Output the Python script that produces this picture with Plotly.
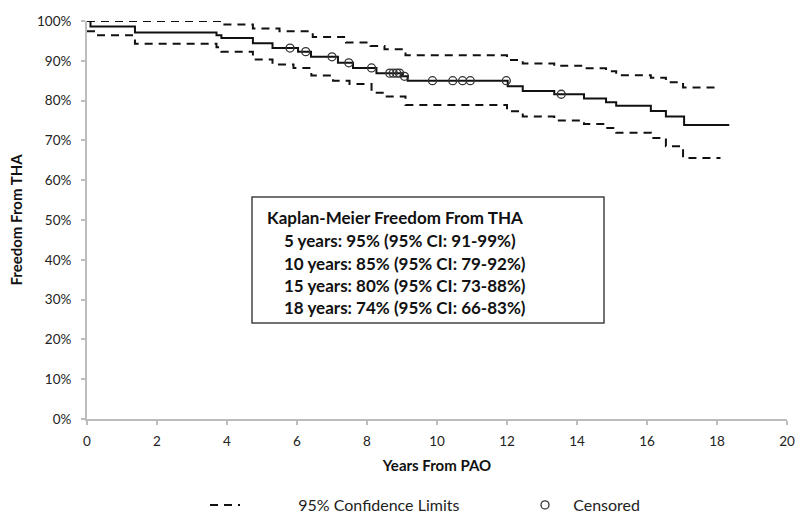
import plotly.graph_objects as go

# ---- data (years, survival %) ----
km_t = [0, 0.1, 1.37, 3.7, 3.84, 4.74, 5.3, 6.03, 6.4, 7.17, 7.6, 8.27, 9.0, 9.16, 12.02, 12.45, 13.35, 14.2, 14.83, 15.12, 16.11, 16.54, 17.06, 18.35]
km_s = [100, 98.6, 97.1, 96.4, 95.7, 94.4, 93.2, 92.3, 91.0, 89.5, 88.2, 86.9, 86.1, 85.0, 83.6, 82.4, 81.6, 80.5, 79.6, 78.7, 77.4, 76.0, 73.9, 73.9]

up_t = [0, 3.88, 4.74, 5.5, 6.45, 7.4, 8.1, 8.5, 9.1, 12.0, 12.45, 13.35, 14.2, 14.83, 15.12, 16.11, 16.54, 17.03, 18.1]
up_s = [100, 99.1, 98.1, 97.4, 96.0, 94.6, 93.75, 92.9, 91.4, 90.2, 89.3, 88.75, 88.1, 87.4, 86.4, 85.75, 84.6, 83.3, 83.3]

lo_t = [0, 0.27, 1.37, 3.7, 3.84, 4.74, 5.3, 5.9, 6.41, 7.03, 7.5, 8.13, 8.5, 9.1, 12.0, 12.45, 13.35, 14.2, 14.83, 15.12, 16.11, 16.54, 17.03, 18.1]
lo_s = [97.4, 96.4, 94.3, 93.4, 92.3, 90.3, 89.1, 88.2, 86.3, 85.0, 84.2, 82.0, 81.0, 78.9, 77.3, 76.0, 75.0, 74.1, 73.1, 71.9, 70.6, 68.5, 65.6, 65.6]

cens_t = [5.8, 6.25, 7.0, 7.48, 8.13, 8.65, 8.75, 8.85, 8.93, 9.07, 9.87, 10.45, 10.73, 10.95, 11.98, 13.55]
cens_s = [93.2, 92.3, 91.0, 89.5, 88.2, 86.9, 86.9, 86.9, 86.9, 86.1, 85.0, 85.0, 85.0, 85.0, 85.0, 81.6]

box_lines = [
    "Kaplan-Meier Freedom From THA",
    "5 years: 95% (95% CI: 91-99%)",
    "10 years: 85% (95% CI: 79-92%)",
    "15 years: 80% (95% CI: 73-88%)",
    "18 years: 74% (95% CI: 66-83%)",
]

FONT = "Lato"
L, R, T, B = 87, 787, 21, 419
W, H = 800, 521

def xp(px):
    return (px - L) / (R - L)

def yp(py):
    return (B - py) / (B - T)

NB = "\u00a0"
fig = go.Figure()
ci_dash = "8px,6px"
fig.add_trace(go.Scatter(x=up_t, y=up_s, mode="lines", line=dict(color="#111", width=2, dash=ci_dash, shape="hv"),
                         name=NB * 13 + "95% Confidence Limits", legendgroup="ci", showlegend=True,
                         legend="legend", hoverinfo="skip"))
fig.add_trace(go.Scatter(x=lo_t, y=lo_s, mode="lines", line=dict(color="#111", width=2, dash=ci_dash, shape="hv"),
                         name="95% Confidence Limits", legendgroup="ci", showlegend=False, hoverinfo="skip"))
fig.add_trace(go.Scatter(x=km_t, y=km_s, mode="lines", line=dict(color="#111", width=2, shape="hv"),
                         name="KM", showlegend=False))
fig.add_trace(go.Scatter(x=cens_t, y=cens_s, mode="markers",
                         marker=dict(symbol="circle-open", size=8, color="#333", line=dict(width=1.3, color="#333")),
                         name=NB * 2 + "Censored", showlegend=True, legend="legend2"))

# text box
fig.add_shape(type="rect", xref="paper", yref="paper", x0=xp(252), x1=xp(604), y0=yp(323), y1=yp(197),
              line=dict(color="#444", width=1.5), fillcolor="white", layer="above")
line_y = [217, 241, 263, 285, 307]
line_x = [265, 282, 282, 282, 282]
for txt, yy, xx in zip(box_lines, line_y, line_x):
    fig.add_annotation(text=txt, xref="paper", yref="paper", x=xp(xx), y=yp(yy), xanchor="left", yanchor="middle",
                       showarrow=False, font=dict(family=FONT, size=17, color="#111", weight="bold"))

axis_common = dict(showline=True, linecolor="#bdbdbd", linewidth=2, ticks="outside", tickcolor="#bdbdbd",
                   ticklen=4, tickwidth=1.5, showgrid=False, zeroline=False, automargin=False,
                   tickfont=dict(family=FONT, size=13.5, color="#222"))
fig.update_xaxes(range=[0, 20], dtick=2, tick0=0, ticklabelstandoff=5,
                 title=dict(text="Years From PAO", font=dict(family=FONT, size=15, color="#111", weight="bold"), standoff=12),
                 **axis_common)
fig.update_yaxes(range=[0, 100], dtick=10, ticksuffix="%", ticklabelstandoff=7,
                 title=dict(text="Freedom From THA", font=dict(family=FONT, size=15, color="#111", weight="bold"), standoff=11),
                 **axis_common)

leg_common = dict(orientation="h", yanchor="middle", xanchor="left", yref="container", y=(H - 505) / H,
                  font=dict(family=FONT, size=16, color="#222"), bgcolor="rgba(0,0,0,0)")
fig.update_layout(
    width=W, height=H, margin=dict(l=L, r=W - R, t=T, b=H - B),
    plot_bgcolor="white", paper_bgcolor="white",
    showlegend=True,
    legend=dict(x=xp(205), **leg_common),
    legend2=dict(x=xp(525), **leg_common),
)

fig.write_html("out.html", config={"displayModeBar": False},
               post_script="document.body.style.margin='0';")
